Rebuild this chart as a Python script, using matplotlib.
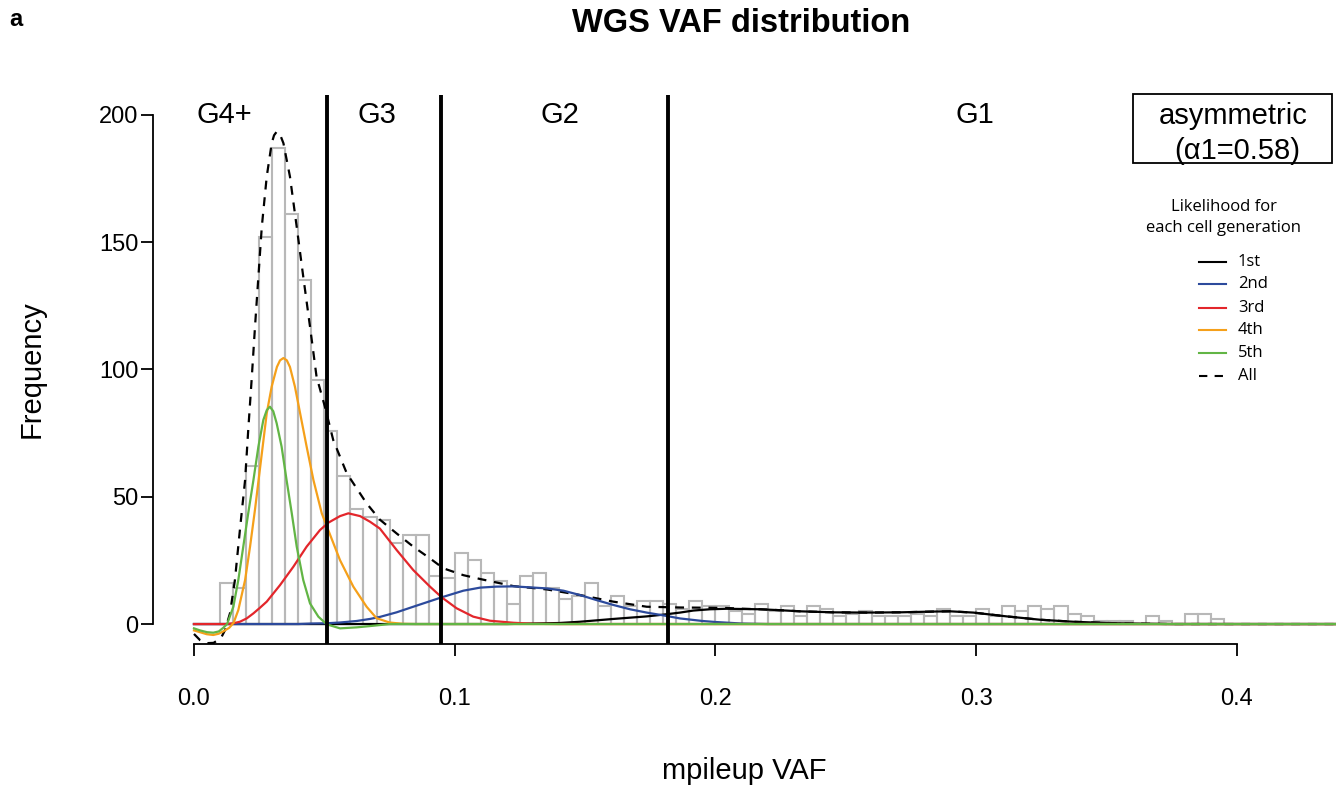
import numpy as np
import matplotlib
matplotlib.use("Agg")
from matplotlib import pyplot as plt
from matplotlib.patches import Rectangle
from matplotlib.lines import Line2D

plt.rcParams['font.family'] = ['Liberation Sans', 'DejaVu Sans']

# histogram counts, bins of width 0.005 starting at 0.01
bin_width = 0.005
bin_starts = np.round(np.arange(0.01, 0.3901, bin_width), 3)
counts = [16, 14, 62, 152, 187, 161, 135, 96, 76, 58,
          45, 42, 41, 32, 35, 35, 19, 18, 28, 25,
          20, 17, 8, 19, 20, 14, 10, 11, 16, 7,
          11, 7, 9, 9, 8, 6, 9, 7, 7, 5,
          4, 8, 5, 7, 3, 7, 6, 3, 4, 5,
          3, 3, 3, 4, 3, 6, 3, 3, 6, 3,
          7, 5, 7, 6, 7, 4, 3, 1, 1, 1,
          0, 3, 1, 0, 4, 4, 2]

# generation cut-offs
cuts = [0.0512, 0.0949, 0.1816]
gen_labels = ["G4+", "G3", "G2", "G1"]
gen_label_x = [0.0115, 0.0702, 0.1404, 0.2995]

# likelihood curves
first_x = [0, 0.12, 0.14, 0.148, 0.1608, 0.1736, 0.18, 0.1864, 0.1915, 0.1979, 0.2043, 0.2107,
           0.2171, 0.2235, 0.2324, 0.2452, 0.258, 0.2708, 0.2835, 0.29, 0.2989, 0.3117, 0.3244,
           0.3372, 0.35, 0.363, 0.375, 0.44]
first_y = [0, 0, 0.4, 0.9, 2.0, 3.0, 3.7, 4.5, 5.3, 5.8, 6.0, 5.9,
           5.8, 5.5, 5.0, 4.6, 4.5, 4.6, 4.9, 5.0, 4.5, 3.0, 1.7,
           0.9, 0.4, 0.15, 0, 0]

second_x = [0, 0.04, 0.045, 0.0509, 0.056, 0.0624, 0.0675, 0.0713, 0.0777, 0.0841, 0.095, 0.1033,
            0.1097, 0.116, 0.1225, 0.1289, 0.1353, 0.1417, 0.148, 0.1544, 0.1608, 0.1672, 0.1736,
            0.18, 0.1864, 0.195, 0.2, 0.21, 0.22, 0.44]
second_y = [0, 0, 0.2, 0.3, 0.6, 1.2, 2.0, 2.8, 4.6, 6.8, 10.5, 13.1,
            14.3, 14.7, 14.8, 14.4, 14.0, 13.1, 11.4, 9.4, 7.5, 5.8, 4.5,
            3.4, 2.2, 1.2, 0.8, 0.2, 0, 0]

third_x = [0, 0.012, 0.0151, 0.0176, 0.0202, 0.0228, 0.0253, 0.0279, 0.033, 0.0381, 0.0432, 0.0483,
           0.0515, 0.056, 0.0592, 0.0637, 0.0675, 0.0713, 0.0777, 0.0841, 0.0905, 0.095, 0.1007,
           0.1071, 0.1135, 0.1225, 0.13, 0.14, 0.44]
third_y = [0, 0, 0.3, 0.9, 2.2, 4.2, 6.4, 8.8, 15.3, 22.5, 30.4, 36.9,
           39.8, 42.4, 43.5, 42.4, 40.2, 37.5, 29.1, 21.2, 14.7, 10.5, 6.2,
           2.9, 1.3, 0.5, 0.1, 0, 0]

fourth_x = [0, 0.0023, 0.0049, 0.0074, 0.0095, 0.0112, 0.0135, 0.0152, 0.017, 0.0196, 0.0215, 0.0234,
            0.0253, 0.0279, 0.0298, 0.0318, 0.033, 0.0343, 0.0356, 0.0368, 0.0387, 0.0407, 0.0432,
            0.0458, 0.049, 0.0515, 0.056, 0.0611, 0.0662, 0.07, 0.075, 0.08, 0.085, 0.44]
fourth_y = [-2.5, -3.2, -4.0, -4.3, -3.8, -2.9, -1.5, 0.5, 5.5, 17.3, 30.4, 45.0,
            61.0, 82.8, 93.3, 101.0, 103.6, 104.5, 103.6, 101.0, 93.3, 82.8, 69.7,
            56.6, 43.5, 36.9, 25.1, 14.7, 6.8, 2.3, 0.6, 0.1, 0, 0]

fifth_x = [0, 0.0023, 0.005, 0.0074, 0.0095, 0.0112, 0.0127, 0.0151, 0.017, 0.0189, 0.0208, 0.0228,
           0.0247, 0.0266, 0.0279, 0.0291, 0.0304, 0.0317, 0.0336, 0.0355, 0.0375, 0.0394, 0.0419,
           0.0445, 0.0477, 0.0509, 0.056, 0.0624, 0.0675, 0.075, 0.44]
fifth_y = [-1.7, -2.5, -3.2, -3.4, -2.9, -1.5, 0, 6.8, 17.3, 30.4, 43.5, 56.6,
           69.7, 80.2, 84.0, 85.4, 83.6, 78.9, 69.7, 56.6, 43.5, 30.4, 17.3,
           8.1, 2.9, -0.1, -1.7, -1.3, -0.8, 0, 0]

all_x = [0, 0.0023, 0.005, 0.0075, 0.0092, 0.0106, 0.0119, 0.0138, 0.0157, 0.0176, 0.0196, 0.0208,
         0.0221, 0.0234, 0.0247, 0.026, 0.0279, 0.0298, 0.0307, 0.0317, 0.0329, 0.0343, 0.0368,
         0.0394, 0.0419, 0.0445, 0.047, 0.0502, 0.0534, 0.0586, 0.0662, 0.0713, 0.0777, 0.0841,
         0.0905, 0.0956, 0.1033, 0.1097, 0.1225, 0.1353, 0.148, 0.1608, 0.1736, 0.1864, 0.1979,
         0.2043, 0.2107, 0.2171, 0.2235, 0.2324, 0.2452, 0.258, 0.2708, 0.2835, 0.29, 0.2989,
         0.3117, 0.3244, 0.3372, 0.35, 0.363, 0.375, 0.44]
all_y = [-3.9, -6.3, -7.5, -7.4, -6.3, -5.0, -2.4, 4.2, 17.3, 36.9, 56.6, 76.2,
         95.9, 116.8, 136.5, 156.0, 175.8, 188.9, 192.0, 193.4, 192.6, 188.9, 175.8,
         156.0, 136.5, 116.8, 97.2, 85.4, 72.3, 59.2, 47.4, 41.0, 35.6, 30.4,
         25.8, 21.9, 19.2, 17.7, 14.9, 13.6, 11.4, 8.8, 6.8, 6.5, 6.4,
         6.3, 6.0, 5.8, 5.5, 5.0, 4.6, 4.5, 4.6, 4.9, 5.0, 4.5,
         3.0, 1.7, 0.9, 0.4, 0.15, 0, 0]

gen_names = ["1st", "2nd", "3rd", "4th", "5th"]
gen_colors = ["#000000", "#2c4a9c", "#e3262b", "#f5a01a", "#62b545"]
curves = [(first_x, first_y), (second_x, second_y), (third_x, third_y),
          (fourth_x, fourth_y), (fifth_x, fifth_y)]

W, H = 1336, 785


def fx(px):
    return px / W


def fy(py):
    return 1 - py / H


fig = plt.figure(figsize=(W / 100, H / 100), dpi=100)
ax = fig.add_axes([fx(153), fy(644.4), (1336 - 153) / W, (644.4 - 94.6) / H])

ax.bar(bin_starts, counts, width=bin_width, align='edge', fill=False,
       edgecolor='#b8b8b8', linewidth=1.5, zorder=1)

ax.plot(all_x, all_y, color='black', lw=1.6, ls=(0, (4, 3.5)), zorder=2)
for (cx, cy), col in zip(curves, gen_colors):
    ax.plot(cx, cy, color=col, lw=1.6, zorder=3)

for c in cuts:
    ax.axvline(c, color='black', lw=2.8, zorder=4)

for lab, gx in zip(gen_labels, gen_label_x):
    ax.text(gx, 200, lab, fontsize=21, ha='center', va='center', zorder=5)

ax.set_xlim(-0.01572, 0.43797)
ax.set_ylim(-8.0, 208.0)
for s in ['top', 'right']:
    ax.spines[s].set_visible(False)
ax.spines['left'].set_bounds(0, 200)
ax.spines['bottom'].set_bounds(0, 0.4)
ax.spines['left'].set_linewidth(1.3)
ax.spines['bottom'].set_linewidth(1.3)

ax.set_xticks([0, 0.1, 0.2, 0.3, 0.4])
ax.set_xticklabels(["0.0", "0.1", "0.2", "0.3", "0.4"])
ax.set_yticks([0, 50, 100, 150, 200])
ax.tick_params(axis='both', length=8.6, width=1.3, labelsize=17)
ax.tick_params(axis='x', pad=23)
ax.tick_params(axis='y', pad=2)

ax.set_xlabel("mpileup VAF", fontsize=21)
ax.set_ylabel("Frequency", fontsize=21)
ax.xaxis.set_label_coords(0.5, (644.4 - 771) / 549.8)
ax.xaxis.label.set_va('center')
ax.yaxis.set_label_coords((32 - 153) / 1183, 0.5)
ax.yaxis.label.set_va('center')

# model box in the top right corner
ax.add_patch(Rectangle((0.3601, 181.1), 0.0763, 27.0, fill=False, lw=1.3,
                       edgecolor='black', clip_on=False, zorder=5))
ax.text(0.3985, 199.6, "asymmetric", fontsize=21, ha='center', va='center')
ax.text(0.4000, 185.8, "(\u03b11=0.58)", fontsize=21, ha='center', va='center')

# legend for the curves
leg_font = ['Open Sans', 'DejaVu Sans']
fig.text(fx(1224), fy(206.7), "Likelihood for", fontsize=12, family=leg_font,
         ha='center', va='center')
fig.text(fx(1224), fy(228.3), "each cell generation", fontsize=12, family=leg_font,
         ha='center', va='center')
row_y = [261.7, 284, 307.7, 330, 353.3, 376]
for i, name in enumerate(gen_names + ["All"]):
    if i < 5:
        line = Line2D([fx(1199), fx(1226)], [fy(row_y[i])] * 2, color=gen_colors[i],
                      lw=1.5, transform=fig.transFigure)
    else:
        line = Line2D([fx(1199), fx(1226)], [fy(row_y[i])] * 2, color='black',
                      lw=1.5, ls=(0, (4, 3.5)), transform=fig.transFigure)
    fig.add_artist(line)
    fig.text(fx(1238), fy(row_y[i]), name, fontsize=12, family=leg_font,
             ha='left', va='center')

fig.text(fx(741), fy(24), "WGS VAF distribution", fontsize=23.5, fontweight='bold',
         ha='center', va='center')
fig.text(fx(9), fy(19), "a", fontsize=17, fontweight='bold', ha='left', va='center')

fig.savefig("out.png", dpi=100)
